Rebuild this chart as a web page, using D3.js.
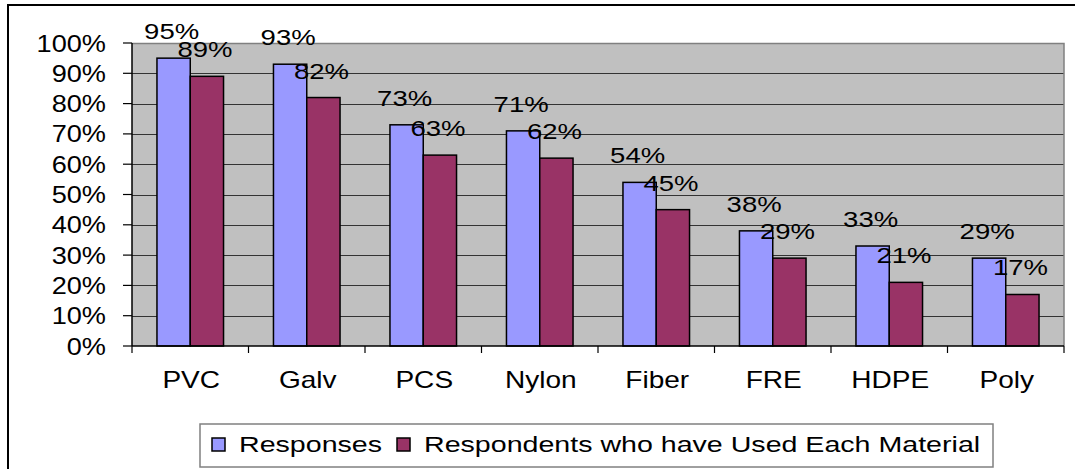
<!DOCTYPE html>
<html>
<head>
<meta charset="utf-8">
<script src="https://cdn.jsdelivr.net/npm/d3@7"></script>
<style>
  body { margin: 0; background: #fff; }
  svg { display: block; font-family: "Liberation Sans", Arial, sans-serif; }
</style>
</head>
<body>
<svg id="chart" width="1075" height="469"></svg>
<script>
/*  Data  */
const materials   = ["PVC", "Galv", "PCS", "Nylon", "Fiber", "FRE", "HDPE", "Poly"];
const responses   = [0.95, 0.93, 0.73, 0.71, 0.54, 0.38, 0.33, 0.29];
const usedEach    = [0.89, 0.82, 0.63, 0.62, 0.45, 0.29, 0.21, 0.17];
const seriesNames = ["Responses", "Respondents who have Used Each Material"];
const yTicks      = [0, 0.1, 0.2, 0.3, 0.4, 0.5, 0.6, 0.7, 0.8, 0.9, 1.0];

const colors = ["#9999ff", "#993366"];

/*  Dimensions  */
const plot = {left: 132, right: 1064, top: 43, bottom: 346};
const sx = 1.22;   // the original text is stretched wide

const svg = d3.select("#chart");

// outer chart frame
svg.append("rect")
  .attr("x", 8).attr("y", 5)
  .attr("width", 1100).attr("height", 500)
  .attr("fill", "#fff")
  .attr("stroke", "#000")
  .attr("stroke-width", 2);

const x0 = d3.scaleBand().domain(materials).range([plot.left, plot.right]);
const barW = x0.bandwidth() / 3.5;
const x1 = d3.scaleBand().domain([0, 1])
  .range([barW * 0.75, barW * 2.75]);
const y = d3.scaleLinear().domain([0, 1]).range([plot.bottom, plot.top]);

// plot area
svg.append("rect")
  .attr("x", plot.left).attr("y", plot.top)
  .attr("width", plot.right - plot.left)
  .attr("height", plot.bottom - plot.top)
  .attr("fill", "#c0c0c0");

// gridlines
svg.append("g").selectAll("line")
  .data(yTicks.slice(1, -1))
  .join("line")
  .attr("x1", plot.left).attr("x2", plot.right)
  .attr("y1", d => Math.round(y(d)) + 0.5)
  .attr("y2", d => Math.round(y(d)) + 0.5)
  .attr("stroke", "#333")
  .attr("stroke-width", 1.2);

// top + right border in gray
svg.append("path")
  .attr("d", `M${plot.left},${plot.top + 0.5}H${plot.right}V${plot.bottom}`)
  .attr("fill", "none")
  .attr("stroke", "#808080")
  .attr("stroke-width", 1.5);

/* ----- bars ----- */
const series = [responses, usedEach];
const groups = svg.append("g").selectAll("g")
  .data(materials)
  .join("g")
  .attr("transform", d => `translate(${x0(d)},0)`);

groups.selectAll("rect")
  .data((d, i) => series.map((s, k) => ({k: k, v: s[i]})))
  .join("rect")
  .attr("x", d => x1(d.k))
  .attr("y", d => y(d.v))
  .attr("width", x1.bandwidth())
  .attr("height", d => y(0) - y(d.v))
  .attr("fill", d => colors[d.k])
  .attr("stroke", "#000")
  .attr("stroke-width", 1.5);

// data labels (they overlap a little, as in the original)
groups.selectAll("text")
  .data((d, i) => series.map((s, k) => ({k: k, v: s[i]})))
  .join("text")
  .attr("transform", d =>
    `translate(${x1(d.k) + x1.bandwidth() / 2 - 2},${y(d.v) - 19}) scale(1.25,1)`)
  .attr("text-anchor", "middle")
  .attr("font-size", 22)
  .attr("fill", "#000")
  .text(d => Math.round(d.v * 100) + "%");

/* ----- axes ----- */
const yAxis = svg.append("g");
yAxis.append("line")
  .attr("x1", plot.left).attr("x2", plot.left)
  .attr("y1", plot.top).attr("y2", plot.bottom)
  .attr("stroke", "#000").attr("stroke-width", 1.5);
yAxis.selectAll(".tick")
  .data(yTicks)
  .join("line")
  .attr("x1", plot.left - 9).attr("x2", plot.left)
  .attr("y1", d => y(d)).attr("y2", d => y(d))
  .attr("stroke", "#000").attr("stroke-width", 1.2);
yAxis.selectAll("text")
  .data(yTicks)
  .join("text")
  .attr("transform", d => `translate(106,${y(d) + 8.5}) scale(1.18,1)`)
  .attr("text-anchor", "end")
  .attr("font-size", 23)
  .text(d3.format(".0%"));

const xAxis = svg.append("g");
xAxis.append("line")
  .attr("x1", plot.left).attr("x2", plot.right)
  .attr("y1", plot.bottom).attr("y2", plot.bottom)
  .attr("stroke", "#000").attr("stroke-width", 1.5);
xAxis.selectAll(".tick")
  .data(materials.concat([null]))
  .join("line")
  .attr("x1", d => d === null ? plot.right : x0(d))
  .attr("x2", d => d === null ? plot.right : x0(d))
  .attr("y1", plot.bottom).attr("y2", plot.bottom + 7)
  .attr("stroke", "#000").attr("stroke-width", 1.2);
xAxis.selectAll("text")
  .data(materials)
  .join("text")
  .attr("transform", d => `translate(${x0(d) + x0.bandwidth() / 2 + 1},388) scale(${sx},1)`)
  .attr("text-anchor", "middle")
  .attr("font-size", 23)
  .text(d => d);

/* ----- legend ----- */
const legend = svg.append("g");
legend.append("rect")
  .attr("x", 200).attr("y", 424)
  .attr("width", 793).attr("height", 43)
  .attr("fill", "#fff")
  .attr("stroke", "#808080")
  .attr("stroke-width", 1.5);

let lx = 212;
seriesNames.forEach((name, k) => {
  legend.append("rect")
    .attr("x", lx).attr("y", 438)
    .attr("width", 13).attr("height", 13)
    .attr("fill", colors[k])
    .attr("stroke", "#000")
    .attr("stroke-width", 1.5);
  const t = legend.append("text")
    .attr("transform", `translate(${lx + 27},452) scale(1.3,1)`)
    .attr("font-size", 22)
    .text(name);
  lx += 27 + t.node().getComputedTextLength() * 1.3 + 15;
});
</script>
</body>
</html>
